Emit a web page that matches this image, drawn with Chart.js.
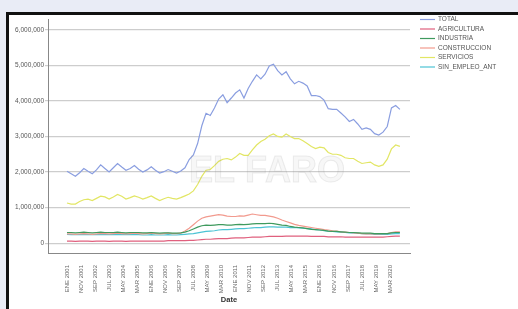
<!DOCTYPE html>
<html>
<head>
<meta charset="utf-8">
<script src="https://cdn.jsdelivr.net/npm/chart.js@4.4.0/dist/chart.umd.min.js"></script>
<style>
  html, body { margin: 0; padding: 0; background: #e9ecf6; width: 518px; height: 309px; overflow: hidden; }
  #panel { position: absolute; left: 6px; top: 12px; width: 509px; height: 294px; background: #fff;
           border-top: 3px solid #111; border-left: 3px solid #111; }
  canvas { display: block; }
</style>
</head>
<body>
<div id="panel"><canvas id="chart" width="509" height="294"></canvas></div>
<script>
// Spanish month abbreviations used in the period labels
const monthNames = ['ENE','FEB','MAR','ABR','MAY','JUN','JUL','AGO','SEP','OCT','NOV','DIC'];

// quarterly sample points
const periods = [
  'ENE 2001','ABR 2001','JUL 2001','OCT 2001', 'ENE 2002','ABR 2002','JUL 2002','OCT 2002',
  'ENE 2003','ABR 2003','JUL 2003','OCT 2003', 'ENE 2004','ABR 2004','JUL 2004','OCT 2004',
  'ENE 2005','ABR 2005','JUL 2005','OCT 2005', 'ENE 2006','ABR 2006','JUL 2006','OCT 2006',
  'ENE 2007','ABR 2007','JUL 2007','OCT 2007', 'ENE 2008','ABR 2008','JUL 2008','OCT 2008',
  'ENE 2009','ABR 2009','JUL 2009','OCT 2009', 'ENE 2010','ABR 2010','JUL 2010','OCT 2010',
  'ENE 2011','ABR 2011','JUL 2011','OCT 2011', 'ENE 2012','ABR 2012','JUL 2012','OCT 2012',
  'ENE 2013','ABR 2013','JUL 2013','OCT 2013', 'ENE 2014','ABR 2014','JUL 2014','OCT 2014',
  'ENE 2015','ABR 2015','JUL 2015','OCT 2015', 'ENE 2016','ABR 2016','JUL 2016','OCT 2016',
  'ENE 2017','ABR 2017','JUL 2017','OCT 2017', 'ENE 2018','ABR 2018','JUL 2018','OCT 2018',
  'ENE 2019','ABR 2019','JUL 2019','OCT 2019', 'ENE 2020','ABR 2020','JUL 2020','OCT 2020'
];

// labels shown on the Date axis
const tickLabels = [
  'ENE 2001','NOV 2001','SEP 2002','JUL 2003','MAY 2004','MAR 2005','ENE 2006','NOV 2006',
  'SEP 2007','JUL 2008','MAY 2009','MAR 2010','ENE 2011','NOV 2011','SEP 2012','JUL 2013',
  'MAY 2014','MAR 2015','ENE 2016','NOV 2016','SEP 2017','JUL 2018','MAY 2019','MAR 2020'
];

// value axis ticks
const yTicks = [0, 1000000, 2000000, 3000000, 4000000, 5000000, 6000000];

// values in millions
const total = [
  2.02,1.95,1.88,1.98, 2.10,2.02,1.95,2.06, 2.20,2.10,2.00,2.12, 2.24,2.14,2.05,2.10,
  2.18,2.08,2.00,2.06, 2.15,2.05,1.97,2.01, 2.07,2.02,1.97,2.03, 2.12,2.35,2.48,2.80,
  3.30,3.65,3.59,3.80, 4.05,4.17,3.95,4.08, 4.22,4.31,4.08,4.35, 4.55,4.73,4.62,4.75,
  4.98,5.03,4.85,4.73, 4.82,4.62,4.48,4.55, 4.50,4.42,4.15,4.15, 4.12,4.02,3.78,3.76,
  3.76,3.66,3.55,3.42, 3.48,3.35,3.20,3.24, 3.20,3.08,3.04,3.12, 3.28,3.80,3.87,3.76
];
const agricultura = [
  0.06,0.06,0.05,0.06, 0.06,0.06,0.05,0.06, 0.06,0.06,0.05,0.06, 0.06,0.06,0.05,0.06,
  0.06,0.06,0.06,0.06, 0.06,0.06,0.06,0.06, 0.07,0.07,0.07,0.07, 0.07,0.08,0.08,0.09,
  0.10,0.11,0.11,0.12, 0.13,0.13,0.13,0.14, 0.15,0.15,0.15,0.16, 0.17,0.17,0.17,0.18,
  0.19,0.19,0.19,0.19, 0.20,0.20,0.20,0.20, 0.20,0.20,0.19,0.19, 0.19,0.19,0.18,0.18,
  0.18,0.18,0.17,0.17, 0.17,0.17,0.17,0.17, 0.17,0.17,0.17,0.17, 0.18,0.19,0.20,0.20
];
const industria = [
  0.30,0.30,0.29,0.30, 0.31,0.30,0.29,0.30, 0.31,0.30,0.30,0.30, 0.31,0.30,0.29,0.30,
  0.30,0.30,0.29,0.29, 0.30,0.29,0.28,0.29, 0.29,0.28,0.28,0.29, 0.31,0.35,0.40,0.45,
  0.49,0.51,0.50,0.51, 0.52,0.52,0.51,0.51, 0.52,0.53,0.52,0.53, 0.54,0.55,0.55,0.55,
  0.56,0.55,0.53,0.51, 0.50,0.47,0.45,0.44, 0.43,0.41,0.39,0.38, 0.37,0.36,0.34,0.33,
  0.33,0.32,0.31,0.30, 0.30,0.29,0.28,0.28, 0.28,0.27,0.27,0.27, 0.27,0.29,0.30,0.30
];
const construccion = [
  0.26,0.26,0.25,0.26, 0.27,0.26,0.25,0.26, 0.27,0.27,0.26,0.27, 0.28,0.27,0.26,0.27,
  0.28,0.27,0.26,0.27, 0.28,0.27,0.26,0.27, 0.28,0.27,0.27,0.28, 0.34,0.42,0.52,0.62,
  0.70,0.74,0.76,0.78, 0.80,0.79,0.76,0.75, 0.75,0.77,0.76,0.79, 0.82,0.80,0.78,0.78,
  0.76,0.74,0.70,0.65, 0.61,0.57,0.53,0.50, 0.48,0.46,0.44,0.42, 0.40,0.38,0.37,0.35,
  0.34,0.32,0.31,0.30, 0.29,0.28,0.27,0.26, 0.26,0.26,0.26,0.27, 0.27,0.30,0.32,0.32
];
const servicios = [
  1.13,1.10,1.10,1.17, 1.22,1.24,1.20,1.26, 1.32,1.30,1.24,1.30, 1.37,1.32,1.24,1.28,
  1.33,1.29,1.24,1.28, 1.33,1.26,1.20,1.25, 1.29,1.26,1.24,1.28, 1.33,1.38,1.47,1.65,
  1.88,2.05,2.07,2.18, 2.30,2.36,2.38,2.34, 2.42,2.52,2.47,2.47, 2.62,2.76,2.86,2.92,
  3.02,3.07,3.00,2.98, 3.07,3.00,2.94,2.94, 2.88,2.80,2.72,2.66, 2.70,2.68,2.55,2.50,
  2.50,2.47,2.40,2.38, 2.38,2.30,2.24,2.26, 2.28,2.20,2.16,2.20, 2.36,2.65,2.76,2.72
];
const sinEmpleoAnt = [
  0.25,0.24,0.24,0.24, 0.25,0.24,0.24,0.24, 0.25,0.24,0.24,0.24, 0.25,0.24,0.24,0.24,
  0.24,0.24,0.23,0.23, 0.24,0.23,0.23,0.23, 0.24,0.23,0.23,0.24, 0.25,0.26,0.27,0.29,
  0.31,0.33,0.34,0.35, 0.37,0.38,0.38,0.39, 0.40,0.41,0.41,0.42, 0.43,0.44,0.44,0.45,
  0.46,0.46,0.45,0.45, 0.45,0.44,0.44,0.43, 0.42,0.41,0.40,0.38, 0.37,0.35,0.34,0.33,
  0.32,0.31,0.30,0.29, 0.28,0.28,0.27,0.26, 0.26,0.25,0.25,0.25, 0.25,0.26,0.27,0.27
];

const seriesNames = ['TOTAL', 'AGRICULTURA', 'INDUSTRIA', 'CONSTRUCCION', 'SERVICIOS', 'SIN_EMPLEO_ANT'];
const seriesColors = ['#8a9ee0', '#e0607e', '#3f9a5e', '#f29a8e', '#e2e664', '#4cc3d4'];
const seriesValues = [total, agricultura, industria, construccion, servicios, sinEmpleoAnt];

// months since ENE 2001
function monthIndex(label) {
  const [m, y] = label.split(' ');
  return (Number(y) - 2001) * 12 + monthNames.indexOf(m);
}

const datasets = seriesNames.map((name, s) => ({
  label: name,
  data: periods.map((p, i) => ({ x: monthIndex(p), y: seriesValues[s][i] * 1e6 })),
  borderColor: seriesColors[s],
  backgroundColor: seriesColors[s],
  borderWidth: 1.2,
  pointRadius: 0,
  tension: 0,
  fill: false
}));

// watermark and right-hand legend
const decor = {
  id: 'decor',
  afterDatasetsDraw(chart) {
    const ctx = chart.ctx;
    ctx.save();
    ctx.font = 'bold 36px "Liberation Sans", Arial, sans-serif';
    ctx.fillStyle = 'rgba(140,140,140,0.07)';
    ctx.strokeStyle = 'rgba(140,140,140,0.16)';
    ctx.lineWidth = 1;
    ctx.textAlign = 'center';
    ctx.textBaseline = 'middle';
    ctx.fillText('EL FARO', 258, 157);
    ctx.strokeText('EL FARO', 258, 157);
    ctx.restore();
  },
  afterDraw(chart) {
    const ctx = chart.ctx;
    const x0 = chart.chartArea.right + 10;
    ctx.save();
    ctx.font = '6.5px "Liberation Sans", Arial, sans-serif';
    ctx.textBaseline = 'middle';
    chart.data.datasets.forEach((ds, i) => {
      const y = 4.5 + i * 9.5;
      ctx.strokeStyle = ds.borderColor;
      ctx.lineWidth = 1.2;
      ctx.beginPath();
      ctx.moveTo(x0, y);
      ctx.lineTo(x0 + 15, y);
      ctx.stroke();
      ctx.fillStyle = '#555';
      ctx.fillText(ds.label, x0 + 18, y);
    });
    ctx.restore();
  }
};

new Chart(document.getElementById('chart'), {
  type: 'line',
  data: { datasets },
  plugins: [decor],
  options: {
    responsive: false,
    animation: false,
    layout: { padding: { top: 1, right: 108, left: 0, bottom: 0 } },
    plugins: { legend: { display: false }, tooltip: { enabled: false } },
    scales: {
      x: {
        type: 'linear',
        min: -13.5,
        max: 244.2,
        afterBuildTicks: (s) => { s.ticks = tickLabels.map(l => ({ value: monthIndex(l) })); },
        afterFit: (s) => { s.height = 56; },
        grid: { display: false },
        border: { display: true, color: '#888', width: 1 },
        ticks: {
          autoSkip: false,
          minRotation: 90,
          maxRotation: 90,
          padding: 4,
          color: '#666',
          font: { size: 6, family: '"Liberation Sans", Arial, sans-serif' },
          callback: (v, i) => tickLabels[i]
        },
        title: {
          display: true,
          text: 'Date',
          color: '#333',
          padding: { top: 0, bottom: 5 },
          font: { size: 7.5, weight: 'bold', family: '"Liberation Sans", Arial, sans-serif' }
        }
      },
      y: {
        min: -276000,
        max: 6276000,
        afterBuildTicks: (s) => { s.ticks = yTicks.map(v => ({ value: v })); },
        afterFit: (s) => { s.width = 39; },
        grid: { color: '#cdcdcd', lineWidth: 1.2, tickLength: 3 },
        border: { display: true, color: '#888', width: 1 },
        ticks: {
          autoSkip: false,
          padding: 1,
          color: '#555',
          font: { size: 6.5, family: '"Liberation Sans", Arial, sans-serif' },
          callback: (v) => v.toLocaleString('en-US')
        }
      }
    }
  }
});
</script>
</body>
</html>
